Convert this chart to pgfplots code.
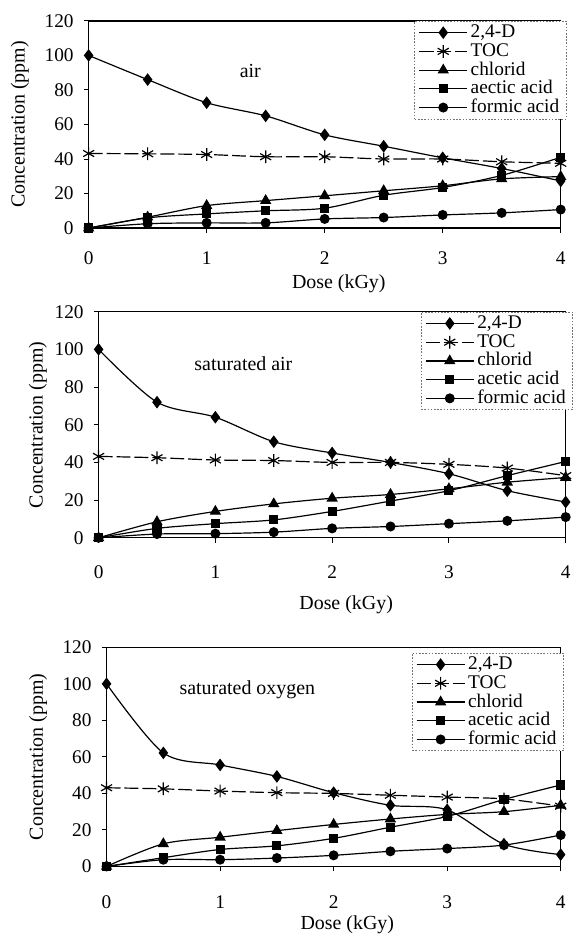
\documentclass[border=0pt]{standalone}
\usepackage{fontspec}
\setmainfont{Liberation Serif}
\usepackage{pgfplots}
\usepackage{pgfplotstable}
\pgfplotsset{compat=1.18}

% dose  2,4-D  TOC  chlorid  acetic  formic
\pgfplotstableread{
dose d24  toc  cl   ac   fo
0    100  43.2 0    0    0
0.5  86   43.0 6.3  5.9  2.5
1    72.6 42.6 13.0 8.2  3.0
1.5  65   41.3 15.9 10.0 3.0
2    54   41.3 18.7 11.5 5.3
2.5  47.4 40.0 21.6 19.0 6.1
3    40.7 40.0 24.5 23.5 7.6
3.5  34.5 38.4 28.5 30.5 8.8
4    27.3 37.5 29.8 41.0 10.7
}\tabair

\pgfplotstableread{
dose d24  toc  cl   ac   fo
0    100  43.2 0    0    0
0.5  72   42.5 8.5  5.0  2.0
1    64   41.3 14.0 7.5  2.2
1.5  51   41.0 18.0 9.5  3.0
2    45   40.0 21.0 14.0 5.0
2.5  40   40.0 23.0 19.5 6.0
3    34   39.0 26.0 25.0 7.5
3.5  25   37.0 29.5 33.0 9.0
4    19   33.0 32.0 40.5 11.0
}\tabsatair

\pgfplotstableread{
dose d24  toc  cl   ac   fo
0    100  43.1 0    0    0
0.5  62.2 42.5 12.4 4.8  3.7
1    55.6 41.3 16.0 9.3  3.7
1.5  49.3 40.4 19.6 11.3 4.6
2    40.4 40.0 23.0 15.4 6.1
2.5  33.5 39.0 26.0 21.5 8.3
3    31.0 38.0 28.5 27.4 9.8
3.5  12.2 37.0 30.0 36.7 11.7
4    6.5  33.0 33.5 44.6 17.2
}\tabsatox

\pgfplotsset{
  panel/.style={
    scale only axis,
    xmin=0, xmax=4, ymin=0, ymax=120,
    xtick={0,1,2,3,4}, ytick={0,20,...,120},
    tick align=outside, xtick pos=bottom, ytick pos=left,
    major tick length=2.5pt,
    axis line style={line width=0.7pt},
    tick style={line width=0.5pt, black},
    clip=false,
    tick label style={font=\fontsize{9.7}{11}\selectfont},
    yticklabel shift=1.5pt,
    /pgf/number format/assume math mode=true,
    label style={font=\fontsize{11}{13}\selectfont},
    xlabel={Dose (kGy)}, ylabel={Concentration (ppm)},
    legend cell align=left,
    legend style={font=\fontsize{9.7}{10}\selectfont, anchor=north west,
      draw=black!55, dash pattern=on 0.8pt off 0.8pt, line width=0.4pt,
      inner xsep=2pt, inner ysep=1pt, row sep=0pt,
      nodes={inner ysep=0.6pt, inner xsep=1.5pt, text height=6.6pt, text depth=1.6pt}},
    legend image code/.code={
      \draw[mark repeat=2, mark phase=2, ##1] plot coordinates {(0pt,0pt) (12pt,0pt) (24pt,0pt)};},
    every axis plot/.append style={black, line width=0.6pt, solid, smooth, mark options={solid}},
  },
  s24/.style={mark=diamond*, mark size=2.7pt},
  stoc/.style={mark=asterisk, mark size=3.2pt, dash pattern=on 7pt off 2pt},
  scl/.style={mark=triangle*, mark size=2.7pt},
  sac/.style={mark=square*, mark size=2pt},
  sfo/.style={mark=*, mark size=2.2pt},
}

\begin{document}
\begin{tikzpicture}
\path (0,0) rectangle (286pt,470pt);

% air
\begin{axis}[panel, at={(44.5pt,355.5pt)}, anchor=south west,
  width=237pt, height=104pt, xticklabel shift=6pt,
  every axis x label/.style={at={(axis description cs:0.53,-0.269)}, anchor=center},
  every axis y label/.style={at={(axis description cs:-0.146,0.5)}, rotate=90, anchor=center},
  legend style={at={(axis description cs:0.69,1)}}]
  \addplot[s24]  table[x=dose, y=d24] {\tabair};
  \addplot[stoc] table[x=dose, y=toc] {\tabair};
  \addplot[scl]  table[x=dose, y=cl]  {\tabair};
  \addplot[sac]  table[x=dose, y=ac]  {\tabair};
  \addplot[sfo]  table[x=dose, y=fo]  {\tabair};
  \legend{{2,4-D}, TOC, chlorid, aectic acid, formic acid}
  \node[font=\fontsize{10}{12}\selectfont] at (axis cs:1.37,91) {air};
\end{axis}

% saturated air
\begin{axis}[panel, at={(49.5pt,200pt)}, anchor=south west,
  width=234.5pt, height=113.5pt, xticklabel shift=8pt,
  every axis x label/.style={at={(axis description cs:0.53,-0.295)}, anchor=center},
  every axis y label/.style={at={(axis description cs:-0.130,0.5)}, rotate=90, anchor=center},
  legend style={at={(axis description cs:0.69,1)}}]
  \addplot[s24]  table[x=dose, y=d24] {\tabsatair};
  \addplot[stoc] table[x=dose, y=toc] {\tabsatair};
  \addplot[scl]  table[x=dose, y=cl]  {\tabsatair};
  \addplot[sac]  table[x=dose, y=ac]  {\tabsatair};
  \addplot[sfo]  table[x=dose, y=fo]  {\tabsatair};
  \legend{{2,4-D}, TOC, chlorid, acetic acid, formic acid}
  \node[font=\fontsize{10}{12}\selectfont] at (axis cs:1.24,92.5) {saturated air};
\end{axis}

% saturated oxygen
\begin{axis}[panel, at={(53.5pt,35pt)}, anchor=south west,
  width=228pt, height=110pt, xticklabel shift=8.5pt,
  every axis x label/.style={at={(axis description cs:0.53,-0.264)}, anchor=center},
  every axis y label/.style={at={(axis description cs:-0.151,0.5)}, rotate=90, anchor=center},
  legend style={at={(axis description cs:0.672,0.975)}}]
  \addplot[s24]  table[x=dose, y=d24] {\tabsatox};
  \addplot[stoc] table[x=dose, y=toc] {\tabsatox};
  \addplot[scl]  table[x=dose, y=cl]  {\tabsatox};
  \addplot[sac]  table[x=dose, y=ac]  {\tabsatox};
  \addplot[sfo]  table[x=dose, y=fo]  {\tabsatox};
  \legend{{2,4-D}, TOC, chlorid, acetic acid, formic acid}
  \node[font=\fontsize{10}{12}\selectfont] at (axis cs:1.24,97) {saturated oxygen};
\end{axis}
\end{tikzpicture}
\end{document}
